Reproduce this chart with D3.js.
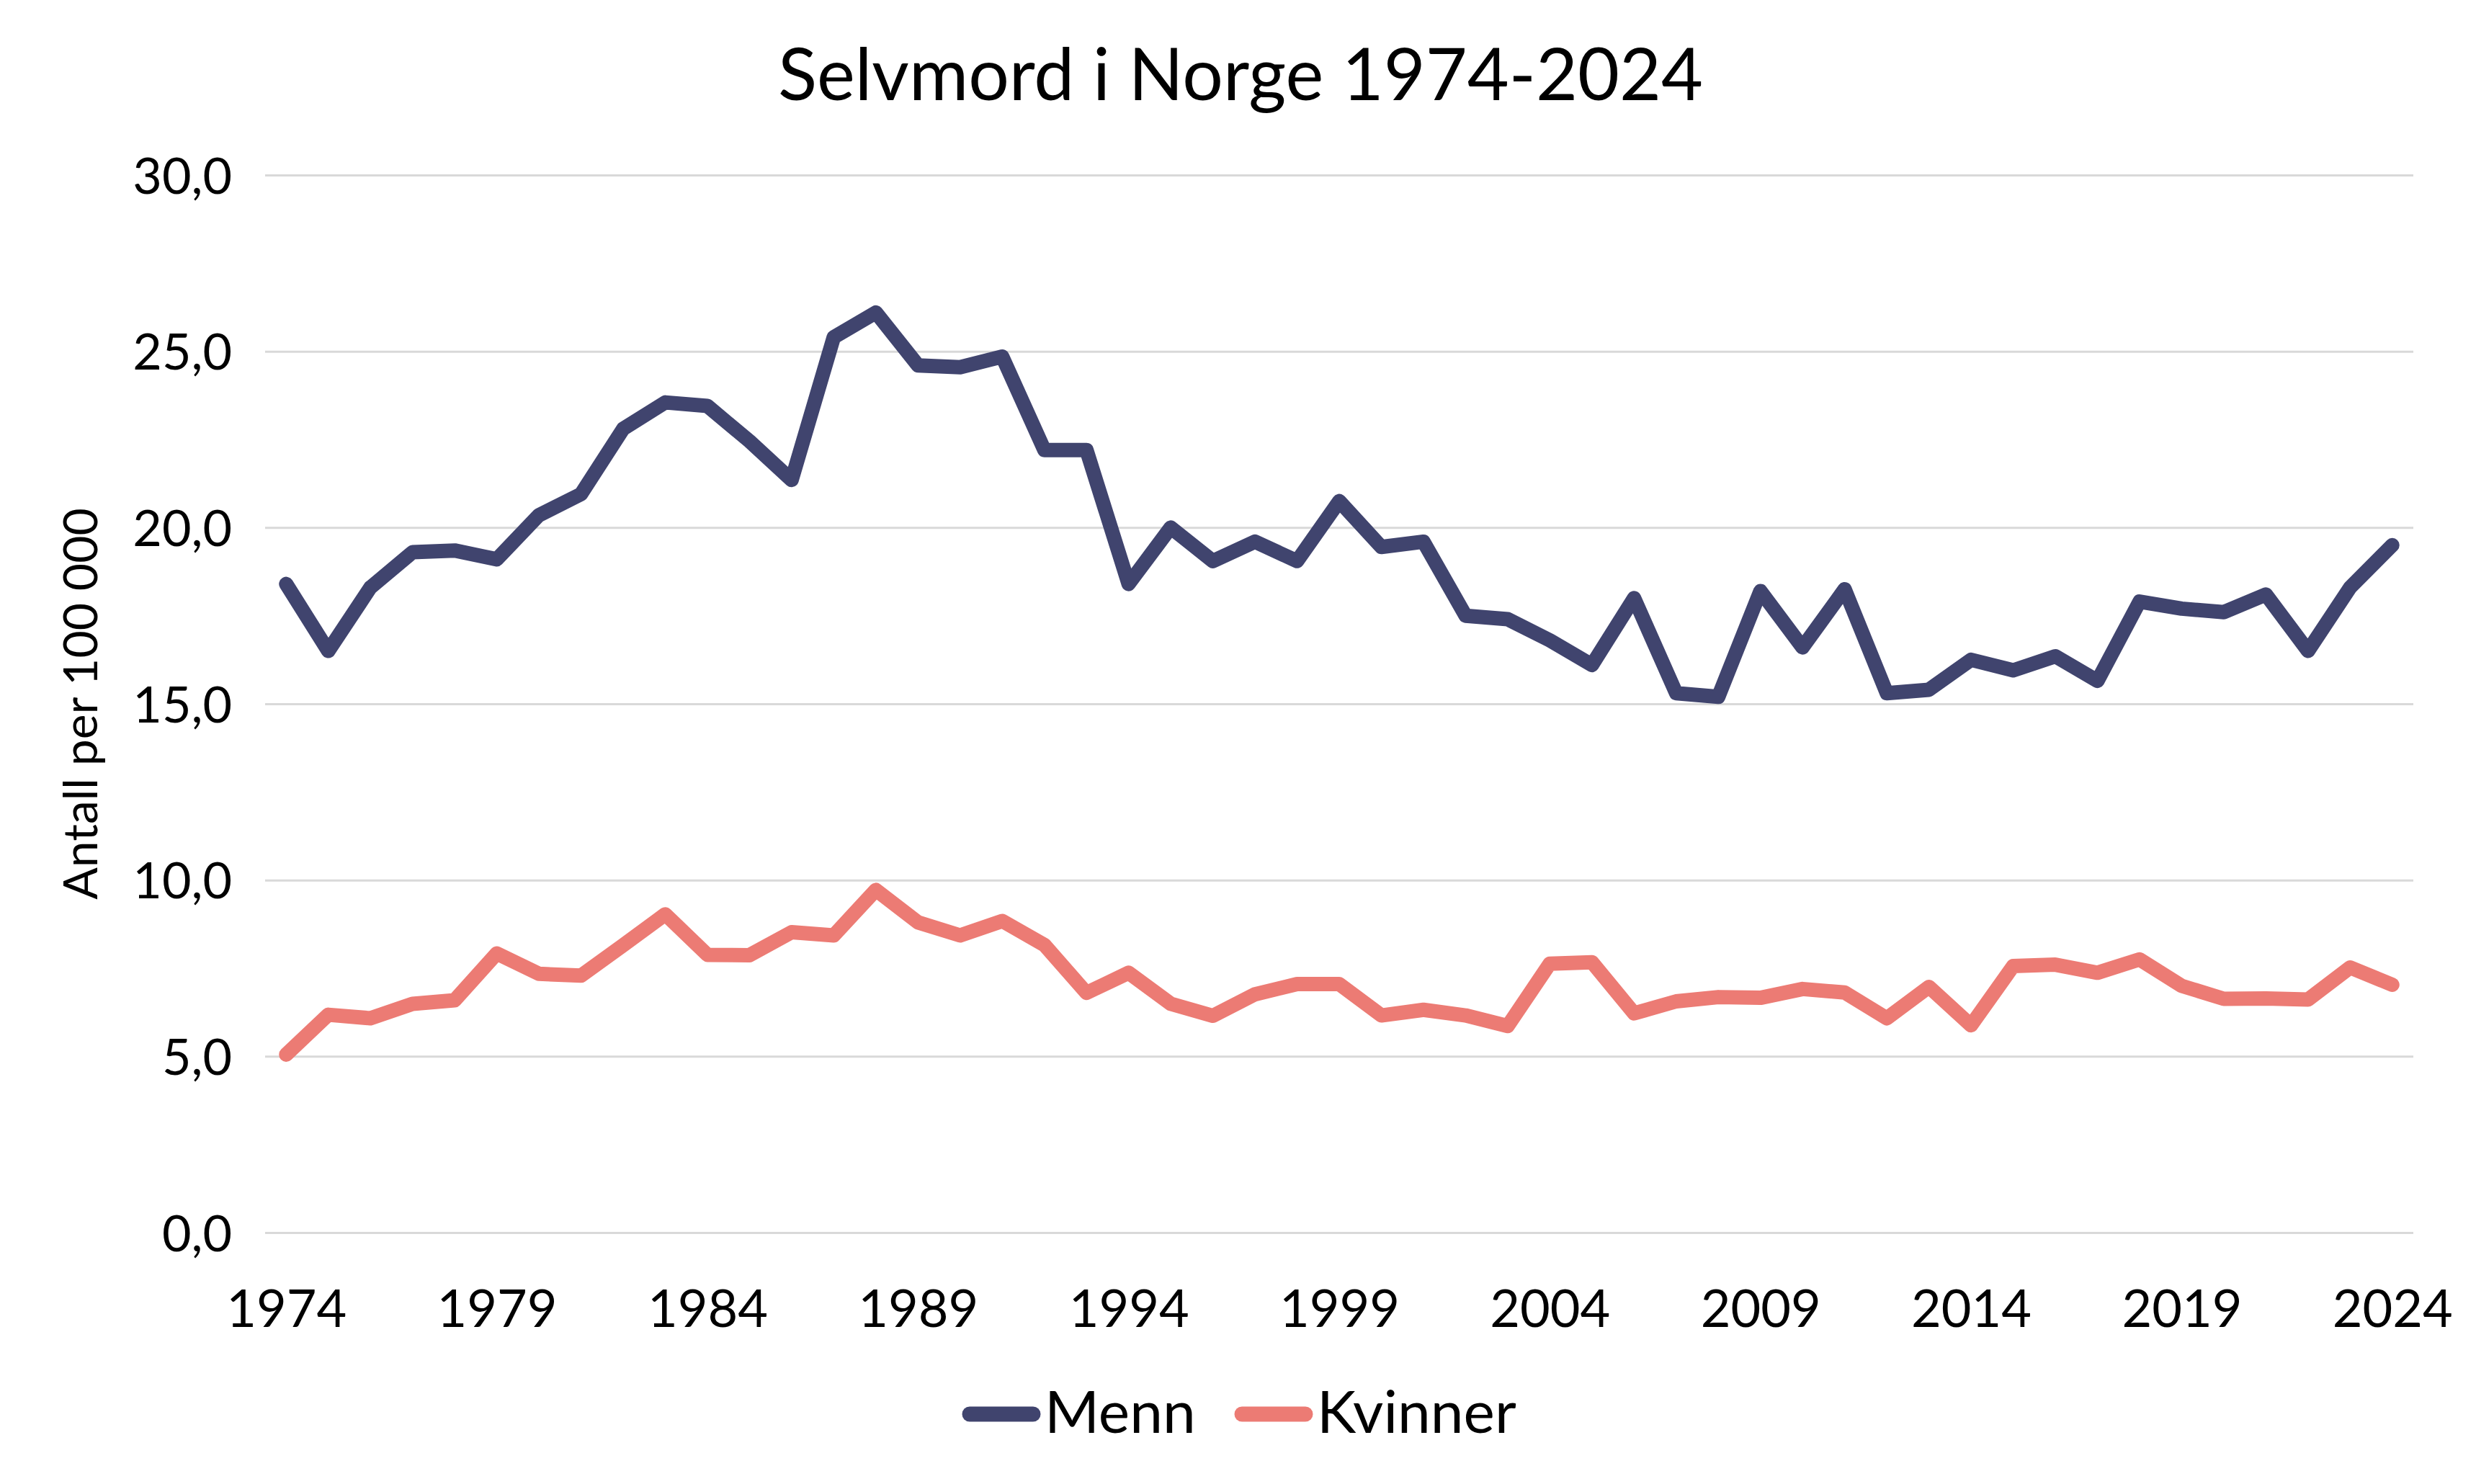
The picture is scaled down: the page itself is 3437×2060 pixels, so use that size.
<!DOCTYPE html>
<meta charset="utf-8">
<script src="https://d3js.org/d3.v7.min.js"></script>
<style>
  body { margin: 0; background: #fff; }
  text { font-family: Lato, "Open Sans", sans-serif; fill: #000; }
</style>
<body>
<div id="chart"></div>
<script>
  // data
  var years = d3.range(1974, 2025);
  var menn = [18.4, 16.5, 18.3, 19.3, 19.35, 19.1, 20.35, 20.95, 22.8, 23.55,
    23.45, 22.45, 21.35, 25.4, 26.1, 24.6, 24.55, 24.85, 22.2, 22.2,
    18.4, 20.0, 19.05, 19.6, 19.05, 20.75, 19.45, 19.6, 17.5, 17.4,
    16.8, 16.1, 18.0, 15.3, 15.2, 18.2, 16.6, 18.25, 15.3, 15.4,
    16.25, 15.95, 16.35, 15.65, 17.9, 17.7, 17.6, 18.1, 16.5, 18.3,
    19.5];
  var kvinner = [5.05, 6.18, 6.08, 6.49, 6.59, 7.92, 7.34, 7.29, 8.15, 9.03,
    7.88, 7.87, 8.52, 8.43, 9.72, 8.8, 8.43, 8.84, 8.16, 6.8,
    7.37, 6.49, 6.15, 6.76, 7.05, 7.05, 6.16, 6.32, 6.16, 5.86,
    7.63, 7.67, 6.22, 6.56, 6.68, 6.66, 6.91, 6.81, 6.08, 6.97,
    5.88, 7.56, 7.6, 7.37, 7.75, 7.0, 6.63, 6.64, 6.61, 7.52,
    7.03];
  var yTicks = [0, 5, 10, 15, 20, 25, 30];
  var xTicks = [1974, 1979, 1984, 1989, 1994, 1999, 2004, 2009, 2014, 2019, 2024];
  var seriesNames = ["Menn", "Kvinner"];
  var colors = ["#40446e", "#ec7b74"];

  var W = 3437, H = 2060;
  var plotLeft = 368, plotRight = 3350, plotTop = 243, plotBottom = 1711;

  var svg = d3.select("#chart")
    .append("svg")
    .attr("width", W)
    .attr("height", H);

  svg.append("rect").attr("width", W).attr("height", H).attr("fill", "#fff");

  var x = d3.scalePoint()
    .domain(years)
    .range([plotLeft, plotRight])
    .padding(0.5);

  var y = d3.scaleLinear()
    .domain([0, 30])
    .range([plotBottom, plotTop]);

  // y axis + gridlines
  var yAxis = svg.append("g")
    .attr("transform", "translate(" + plotLeft + ",0)")
    .call(d3.axisLeft(y)
      .tickValues(yTicks)
      .tickSize(-(plotRight - plotLeft))
      .tickPadding(46)
      .tickFormat(function (d) { return d3.format(".1f")(d).replace(".", ","); }));
  yAxis.select(".domain").remove();
  yAxis.selectAll(".tick line").attr("stroke", "#d9d9d9").attr("stroke-width", 3);
  yAxis.selectAll(".tick text").attr("font-size", 70).attr("dy", "0.36em");

  // x axis
  var xAxis = svg.append("g")
    .attr("transform", "translate(0," + plotBottom + ")")
    .call(d3.axisBottom(x)
      .tickValues(xTicks)
      .tickSize(0)
      .tickPadding(80));
  xAxis.select(".domain").remove();
  xAxis.selectAll(".tick text").attr("font-size", 72);

  // lines
  var line = d3.line()
    .x(function (d, i) { return x(years[i]); })
    .y(function (d) { return y(d); });

  [menn, kvinner].forEach(function (s, k) {
    svg.append("path")
      .datum(s)
      .attr("d", line)
      .attr("fill", "none")
      .attr("stroke", colors[k])
      .attr("stroke-width", 20)
      .attr("stroke-linejoin", "round")
      .attr("stroke-linecap", "round");
  });

  // title
  svg.append("text")
    .attr("x", 1722)
    .attr("y", 139)
    .attr("text-anchor", "middle")
    .attr("font-size", 100)
    .text("Selvmord i Norge 1974-2024");

  // y axis title
  svg.append("text")
    .attr("transform", "translate(135," + ((plotTop + plotBottom) / 2) + ") rotate(-90)")
    .attr("text-anchor", "middle")
    .attr("font-size", 66)
    .text("Antall per 100 000");

  // legend
  var legendX = [1336, 1714];
  seriesNames.forEach(function (name, k) {
    svg.append("line")
      .attr("x1", legendX[k] + 10).attr("x2", legendX[k] + 98)
      .attr("y1", 1963).attr("y2", 1963)
      .attr("stroke", colors[k])
      .attr("stroke-width", 21)
      .attr("stroke-linecap", "round");
    svg.append("text")
      .attr("x", legendX[k] + 114)
      .attr("y", 1989)
      .attr("font-size", 82)
      .text(name);
  });
</script>
</body>
